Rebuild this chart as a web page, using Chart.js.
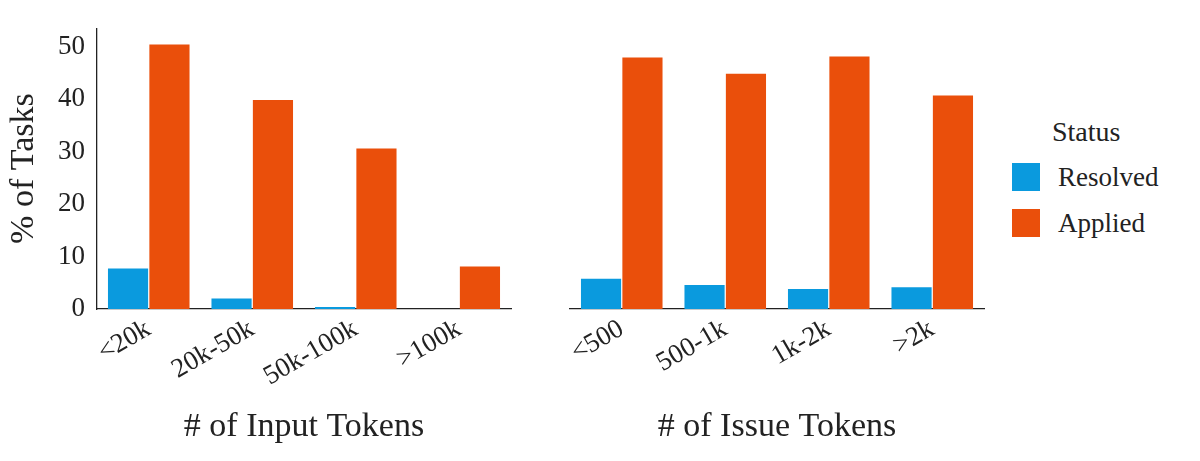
<!DOCTYPE html>
<html><head>
<script src="https://cdn.jsdelivr.net/npm/chart.js@4"></script>
<style>
body{margin:0;background:#fff;width:1200px;height:461px;position:relative;overflow:hidden;font-family:"Liberation Serif",serif}
.c{position:absolute;top:0;height:461px}
#legend{position:absolute;left:1012px;top:116px;font-size:27px;color:#222}
#legend .row{display:flex;align-items:center;height:46px}
#legend .sw{width:28px;height:28px;margin-right:18px}
</style></head><body>
<div class="c" style="left:0;width:515px"><canvas id="left"></canvas></div>
<div class="c" style="left:520px;width:468px"><canvas id="right"></canvas></div>
<div id="legend">
 <div style="margin-left:40px;margin-bottom:6px;font-size:28px">Status</div>
 <div class="row"><div class="sw" style="background:#0a9ade"></div>Resolved</div>
 <div class="row"><div class="sw" style="background:#ea4f0b"></div>Applied</div>
</div>
<script>
// ─── DATA
const inputCats = ['<20k', '20k-50k', '50k-100k', '>100k'];
const inputResolved = [7.7, 2.0, 0.4, 0];
const inputApplied = [50.4, 39.8, 30.6, 8.1];
const issueCats = ['<500', '500-1k', '1k-2k', '>2k'];
const issueResolved = [5.4, 4.3, 3.6, 3.9];
const issueApplied = [45.0, 42.1, 45.2, 38.2];
const yTicks = [0, 10, 20, 30, 40, 50];

const BLUE = '#0a9ade', ORANGE = '#ea4f0b';
const FONT = 'Liberation Serif';

function makeChart(id, cats, res, app, title, showY) {
  return new Chart(document.getElementById(id), {
    type: 'bar',
    data: {
      labels: cats,
      datasets: [
        { label: 'Resolved', data: res, backgroundColor: BLUE },
        { label: 'Applied', data: app, backgroundColor: ORANGE }
      ]
    },
    options: {
      responsive: true, maintainAspectRatio: false, animation: false,
      layout: { padding: { top: 10, left: 0, right: 4, bottom: 2 } },
      plugins: { legend: { display: false }, tooltip: { enabled: false } },
      datasets: { bar: { barPercentage: 0.97, categoryPercentage: 0.8 } },
      scales: {
        x: {
          grid: { display: false, drawTicks: false },
          border: { color: '#222', width: 1.3 },
          ticks: { color: '#222', font: { family: FONT, size: 27 }, maxRotation: 30, minRotation: 30, padding: 4 },
          title: { display: true, text: title, color: '#222', font: { family: FONT, size: 34 }, padding: { top: 0, bottom: 12 } },
          afterFit: ax => { ax.height = 150; }
        },
        y: {
          min: 0, max: 53.5,
          afterBuildTicks: ax => { ax.ticks = yTicks.map(v => ({ value: v })); },
          grid: { display: false, drawTicks: false },
          border: { display: showY, color: '#222', width: 1.3 },
          ticks: { display: showY, color: '#222', font: { family: FONT, size: 27 }, padding: 12 },
          title: { display: showY, text: '% of Tasks', color: '#222', font: { family: FONT, size: 34 } },
          afterFit: ax => { ax.width = showY ? 97 : 50; }
        }
      }
    }
  });
}

makeChart('left', inputCats, inputResolved, inputApplied, '# of Input Tokens', true);
makeChart('right', issueCats, issueResolved, issueApplied, '# of Issue Tokens', false);
</script>
</body></html>
